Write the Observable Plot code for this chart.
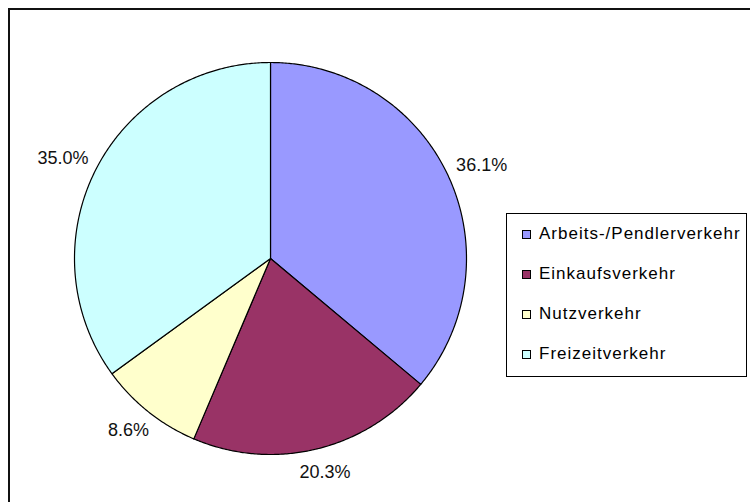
<!DOCTYPE html>
<html><head><meta charset="utf-8">
<script src="https://cdn.jsdelivr.net/npm/d3@7"></script>
<script src="https://cdn.jsdelivr.net/npm/@observablehq/plot@0.6"></script>
<style>
body{margin:0;background:#fff;}
#wrap{position:relative;width:750px;height:502px;overflow:hidden;font-family:"Liberation Sans",Arial,sans-serif;}
#frame{position:absolute;left:8px;top:8px;width:800px;height:600px;border:2px solid #111;box-sizing:border-box;}
#chart{position:absolute;left:0;top:0;}
#legend{position:absolute;left:506px;top:213px;width:241px;height:164px;border:1px solid #000;box-sizing:border-box;background:#fff;}
.row{position:absolute;left:15px;height:20px;display:flex;align-items:center;font-size:17px;letter-spacing:1px;color:#000;white-space:nowrap;}
.sw{width:9px;height:9px;border:1px solid #000;box-sizing:border-box;margin-right:8px;}
</style></head>
<body><div id="wrap"><div id="frame"></div><div id="chart"></div><div id="legend"></div></div>
<script>
const categories = ["Arbeits-/Pendlerverkehr", "Einkaufsverkehr", "Nutzverkehr", "Freizeitverkehr"];
const shares = [36.1, 20.3, 8.6, 35.0];
const labels = ["36.1%", "20.3%", "8.6%", "35.0%"];
const colors = ["#9999FF", "#993366", "#FFFFCC", "#CCFFFF"];

const R = 196, cx = 270, cy = 258, W = 750, H = 502;

// Build slice outlines (angles clockwise from 12 o'clock) from the shares
const total = d3.sum(shares);
const slicePts = [];
const labelPts = [];
let cum = 0;
shares.forEach((v, i) => {
  const a0 = cum / total * 2 * Math.PI;
  const a1 = (cum + v) / total * 2 * Math.PI;
  cum += v;
  slicePts.push({cat: categories[i], x: 0, y: 0});
  const n = Math.max(2, Math.ceil((a1 - a0) / (Math.PI / 360)));
  for (let k = 0; k <= n; k++) {
    const a = a0 + (a1 - a0) * k / n;
    slicePts.push({cat: categories[i], x: Math.sin(a), y: Math.cos(a)});
  }
  slicePts.push({cat: categories[i], x: 0, y: 0});
  // label just outside the rim, pushed out by half its box
  const am = (a0 + a1) / 2;
  const sx = Math.sin(am), sy = Math.cos(am);
  const gap = 12 / R, hw = labels[i].length * 5 / R, hh = 12 / R;
  labelPts.push({text: labels[i], x: (1 + gap) * sx + sx * hw, y: (1 + gap) * sy + sy * hh});
});

const chart = Plot.plot({
  width: W, height: H, margin: 0,
  style: {fontFamily: '"Liberation Sans", Arial, sans-serif', background: "transparent", overflow: "visible"},
  x: {domain: [-cx / R, (W - cx) / R], axis: null},
  y: {domain: [-(H - cy) / R, cy / R], axis: null},
  color: {domain: categories, range: colors},
  marks: [
    Plot.line(slicePts, {x: "x", y: "y", z: "cat", fill: "cat", stroke: "#000", strokeWidth: 1.2, strokeLinejoin: "round", curve: "linear"}),
    Plot.text(labelPts, {x: "x", y: "y", text: "text", fontSize: 18, fill: "#111"})
  ]
});
document.getElementById("chart").appendChild(chart);

const leg = document.getElementById("legend");
categories.forEach((c, i) => {
  const row = document.createElement("div");
  row.className = "row";
  row.style.top = (10 + i * 40) + "px";
  const sw = document.createElement("span");
  sw.className = "sw";
  sw.style.background = colors[i];
  const t = document.createElement("span");
  t.textContent = c;
  row.appendChild(sw);
  row.appendChild(t);
  leg.appendChild(row);
});
</script>
</body></html>
